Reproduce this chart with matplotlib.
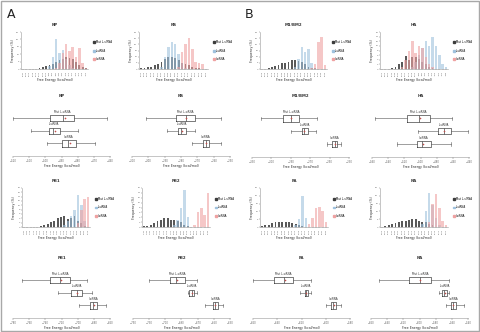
import matplotlib
matplotlib.use("Agg")
import matplotlib.pyplot as plt
from matplotlib.patches import Patch, Rectangle

W, H = 481, 332

SERIES = ["Mut L-siRNA", "L-siRNA", "I-siRNA"]
MUT_COLOR = "#3c3c3c"
L_COLOR = "#9fc2dd"
I_COLOR = "#efa2a2"

# ---- histogram data (frequency %, per free-energy bin) ----
NP_BINS = [-530, -526, -522, -518, -514, -510, -506, -502, -498, -494,
           -490, -486, -482, -478, -474, -470, -466, -462, -458, -454]
NP_MUT = [0, 0, 0, 0, 0.2, 0.5, 1.2, 1.8, 2.5, 3.5, 5, 6, 7, 8, 7.5, 6.5, 4.5, 3, 1.5, 0.5]
NP_L = [0, 0, 0, 0, 0, 0, 0, 0, 2, 8, 20, 11, 13, 7, 3, 1, 0, 0, 0, 0]
NP_I = [0, 0, 0, 0, 0, 0, 0, 0, 0, 0, 1, 4, 11, 17, 12, 15, 8, 14, 4, 1]

NS_BINS = [-312, -309, -306, -303, -300, -297, -294, -291, -288, -285,
           -282, -279, -276, -273, -270, -267, -264, -261, -258, -255]
NS_MUT = [0.5, 1, 1.5, 2, 3, 4, 6, 8, 10, 9.5, 9, 7, 5, 4, 3, 2, 1, 0.5, 0.3, 0]
NS_L = [0, 0, 0, 0, 0, 0, 2, 10, 18, 22, 20, 12, 5, 1, 0, 0, 0, 0, 0, 0]
NS_I = [0, 0, 0, 0, 0, 0, 0, 0, 0, 0, 0, 2, 14, 20, 25, 16, 6, 5, 4, 0]

M1_BINS = [-328, -323, -318, -313, -308, -303, -298, -293, -288, -283,
           -278, -273, -268, -263, -258, -253, -248, -243, -238, -233]
M1_MUT = [0, 0, 0.5, 1.5, 2.5, 3, 4.5, 5, 6, 7, 7.5, 6.5, 6, 4, 2, 1, 0.5, 0, 0, 0]
M1_L = [0, 0, 0, 0, 0, 0, 0, 0, 0, 0, 2, 8, 18, 14, 16, 5, 1, 0, 0, 0]
M1_I = [0, 0, 0, 0, 0, 0, 0, 0, 0, 0, 0, 0, 0, 0, 0, 1, 4, 22, 26, 3]

HA_BINS = [-562, -556, -550, -544, -538, -532, -526, -520, -514, -508,
           -502, -496, -490, -484, -478, -472, -466, -460, -454, -448]
HA_MUT = [0, 0, 0, 0.5, 1, 2, 3, 5.5, 4, 5, 5, 4.5, 3, 2, 1, 0.5, 0, 0, 0, 0]
HA_L = [0, 0, 0, 0, 0, 0, 0, 0, 0, 1, 3, 6, 9, 12, 10, 14, 10, 6, 2, 1]
HA_I = [0, 0, 0, 0, 0, 0, 1, 4, 8, 12, 7, 10, 9, 5, 2, 1, 0, 0, 0, 0]

PB1_BINS = [-790, -784, -778, -772, -766, -760, -754, -748, -742, -736,
            -730, -724, -718, -712, -706, -700, -694, -688, -682, -676]
PB1_MUT = [0, 0, 0, 0, 0, 0.5, 1, 1.5, 2.5, 3, 4, 4.5, 5, 3.5, 4, 5, 3, 2, 0.5, 0]
PB1_L = [0, 0, 0, 0, 0, 0, 0, 0, 0, 0, 0, 0, 1, 3, 5, 8, 15, 10, 3, 0]
PB1_I = [0, 0, 0, 0, 0, 0, 0, 0, 0, 0, 0, 0, 0, 0, 0, 0, 2, 8, 13, 14]

PB2_BINS = [-740, -735, -730, -725, -720, -715, -710, -705, -700, -695,
            -690, -685, -680, -675, -670, -665, -660, -655, -650, -645]
PB2_MUT = [0.3, 0.5, 1, 1.5, 2.5, 3, 3.5, 3.5, 3, 3, 2.5, 2, 1, 0.5, 0, 0, 0, 0, 0, 0]
PB2_L = [0, 0, 0, 0, 0, 0, 0, 0, 0, 1, 3, 8, 15, 4, 0, 0, 0, 0, 0, 0]
PB2_I = [0, 0, 0, 0, 0, 0, 0, 0, 0, 0, 0, 0, 0, 0, 0, 1, 6, 8, 5, 14]

PA_BINS = [-662, -658, -654, -650, -646, -642, -638, -634, -630, -626,
           -622, -618, -614, -610, -606, -602, -598, -594, -590, -586]
PA_MUT = [0.5, 1, 1.5, 2.5, 3, 3.5, 3.5, 3, 3, 2.5, 2, 1.5, 0.5, 0, 0, 0, 0, 0, 0, 0]
PA_L = [0, 0, 0, 0, 0, 0, 0, 0, 0, 0, 1, 5, 20, 6, 0, 0, 0, 0, 0, 0]
PA_I = [0, 0, 0, 0, 0, 0, 0, 0, 0, 0, 0, 0, 0, 0, 2, 6, 12, 13, 10, 3]

NA_BINS = [-656, -651, -646, -641, -636, -631, -626, -621, -616, -611,
           -606, -601, -596, -591, -586, -581, -576, -571, -566, -561]
NA_MUT = [0, 0.5, 1.5, 2, 2.5, 3, 4, 4, 4.5, 5, 5, 4, 3.5, 3, 2, 1, 0, 0, 0, 0]
NA_L = [0, 0, 0, 0, 0, 0, 0, 0, 0, 0, 0, 0, 2, 10, 22, 14, 6, 1, 0, 0]
NA_I = [0, 0, 0, 0, 0, 0, 0, 0, 0, 0, 0, 0, 0, 0, 3, 15, 21, 12, 4, 1]

# ---- boxplot data: [whisker low, Q1, median, Q3, whisker high, mean] ----
NP_BOX = [[-520, -497, -489, -482, -462, -488],
          [-509, -498, -495, -491, -480, -494],
          [-499, -490, -486, -481, -469, -485]]
NP_TICKS = [-520, -510, -500, -490, -480, -470, -460]

NS_BOX = [[-301.5, -283.2, -277.2, -271.4, -255.7, -277],
          [-288.6, -281.9, -280.0, -277.1, -271.4, -279.5],
          [-273.4, -266.7, -264.8, -262.8, -255.7, -264.5]]
NS_TICKS = [-310, -300, -290, -280, -270, -260, -250]

M1_BOX = [[-320.8, -298.3, -290.1, -281.2, -263.4, -290],
          [-289.7, -278.8, -276.1, -272.0, -264.1, -276],
          [-252.5, -247.1, -244.7, -242.3, -237.8, -244.7]]
M1_TICKS = [-330, -310, -290, -270, -250, -230]

HA_BOX = [[-555.9, -516.2, -501.4, -488.4, -460.5, -501],
          [-502.6, -478.9, -471.1, -462.6, -441.2, -471],
          [-529.3, -504.7, -498.6, -487.5, -461.7, -497]]
HA_TICKS = [-560, -540, -520, -500, -480, -460, -440]

PB1_BOX = [[-769.0, -734.8, -721.7, -709.3, -688.0, -721],
           [-724.9, -708.1, -701.0, -694.1, -682.6, -701],
           [-697.8, -684.6, -680.5, -675.6, -664.9, -680]]
PB1_TICKS = [-780, -760, -740, -720, -700, -680, -660]

PB2_BOX = [[-730.0, -704.5, -696.2, -685.9, -671.4, -696],
           [-681.7, -680.5, -677.6, -674.6, -671.4, -677.5],
           [-661.1, -651.5, -648.6, -644.5, -639.1, -648]]
PB2_TICKS = [-750, -730, -710, -690, -670, -650, -630]

PA_BOX = [[-660.0, -643.0, -634.8, -627.1, -612.3, -634],
          [-621.1, -617.5, -616.2, -614.8, -612.1, -616],
          [-599.8, -595.9, -593.7, -591.5, -587.4, -593.5]]
PA_TICKS = [-660, -640, -620, -600, -580]

NA_BOX = [[-649.7, -612.7, -598.8, -585.2, -563.4, -599],
          [-575.8, -572.0, -569.2, -565.9, -563.4, -569],
          [-567.5, -561.4, -558.5, -554.4, -545.4, -558]]
NA_TICKS = [-660, -640, -620, -600, -580, -560, -540]


def px_axes(fig, x0, x1, y0, y1):
    return fig.add_axes([x0 / W, 1 - y1 / H, (x1 - x0) / W, (y1 - y0) / H])


def draw_hist(ax, title, bins, mut, l_vals, i_vals, ymax, ystep):
    x = list(range(len(bins)))
    ax.bar(x, mut, width=0.55, color=MUT_COLOR, alpha=0.85, linewidth=0)
    ax.bar(x, l_vals, width=0.75, color=L_COLOR, alpha=0.6, linewidth=0)
    ax.bar(x, i_vals, width=0.75, color=I_COLOR, alpha=0.6, linewidth=0)
    ax.set_xlim(-0.6, len(bins) - 0.4)
    ax.set_ylim(0, ymax)
    ax.set_yticks(range(0, ymax + 1, ystep))
    ax.set_xticks(x)
    ax.set_xticklabels([str(b) for b in bins], rotation=90)
    ax.tick_params(labelsize=1.6, length=0.8, width=0.3, pad=0.6, colors="#666666")
    for side in ("top", "right"):
        ax.spines[side].set_visible(False)
    for side in ("left", "bottom"):
        ax.spines[side].set_linewidth(0.4)
        ax.spines[side].set_color("#999999")
    ax.set_title(title, fontsize=2.8, fontweight="bold", pad=4, color="#333333")
    ax.set_ylabel("Frequency (%)", fontsize=2.3, labelpad=1.2, color="#333333")
    ax.set_xlabel("Free Energy (kcal/mol)", fontsize=2.3, labelpad=1.2, color="#333333")
    handles = [Patch(color=c) for c in (MUT_COLOR, L_COLOR, I_COLOR)]
    ax.legend(handles, SERIES, loc="center left", bbox_to_anchor=(1.04, 0.5),
              fontsize=1.9, frameon=False, handlelength=0.7, handleheight=0.7,
              handletextpad=0.4, labelspacing=1.8)


def draw_box(ax, title, box, ticks):
    stats = []
    for name, row in zip(SERIES, box):
        stats.append({"whislo": row[0], "q1": row[1], "med": row[2],
                      "q3": row[3], "whishi": row[4], "mean": row[5],
                      "label": name})
    pos = [3, 2, 1]
    ax.bxp(stats, positions=pos, widths=0.5, orientation="horizontal",
           showmeans=True, showfliers=False, patch_artist=False,
           boxprops=dict(linewidth=0.5, color="#444444"),
           whiskerprops=dict(linewidth=0.4, color="#555555"),
           capprops=dict(linewidth=0.4, color="#555555"),
           medianprops=dict(linewidth=0.5, color="#444444"),
           meanprops=dict(marker="+", markersize=2, markeredgewidth=0.4,
                          markeredgecolor="#c0504d"))
    for p, name, row in zip(pos, SERIES, box):
        ax.text((row[1] + row[3]) / 2, p + 0.35, name, ha="center", va="bottom",
                fontsize=2.0, color="#333333")
    ax.set_ylim(0, 3.8)
    ax.set_yticks([])
    ax.set_xlim(ticks[0], ticks[-1])
    ax.set_xticks(ticks)
    ax.tick_params(labelsize=1.8, length=1.2, width=0.3, pad=1, colors="#666666")
    for side in ("top", "right", "left"):
        ax.spines[side].set_visible(False)
    ax.spines["bottom"].set_linewidth(0.4)
    ax.spines["bottom"].set_color("#999999")
    ax.set_title(title, fontsize=2.8, fontweight="bold", pad=8, color="#333333")
    ax.set_xlabel("Free Energy (kcal/mol)", fontsize=2.3, labelpad=1.0, color="#333333")


fig = plt.figure(figsize=(W / 100, H / 100), dpi=100)
fig.patch.set_facecolor("white")
fig.add_artist(Rectangle((0.002, 0.003), 0.994, 0.994, transform=fig.transFigure,
                         fill=False, edgecolor="#a8a8a8", linewidth=1.0))
fig.text(7 / W, 1 - 18 / H, "A", fontsize=9, color="#222222")
fig.text(245 / W, 1 - 18 / H, "B", fontsize=9, color="#222222")

hists = [
    ((21, 88, 32, 69), "NP", NP_BINS, NP_MUT, NP_L, NP_I, 25, 5),
    ((139, 208, 32, 69), "NS", NS_BINS, NS_MUT, NS_L, NS_I, 30, 5),
    ((260, 327, 32, 69), "M1/BM2", M1_BINS, M1_MUT, M1_L, M1_I, 30, 5),
    ((380, 448, 32, 69), "HA", HA_BINS, HA_MUT, HA_L, HA_I, 16, 2),
    ((22, 90, 188, 227), "PB1", PB1_BINS, PB1_MUT, PB1_L, PB1_I, 18, 2),
    ((142, 210, 188, 227), "PB2", PB2_BINS, PB2_MUT, PB2_L, PB2_I, 16, 2),
    ((260, 328, 188, 227), "PA", PA_BINS, PA_MUT, PA_L, PA_I, 25, 5),
    ((380, 448, 188, 227), "NA", NA_BINS, NA_MUT, NA_L, NA_I, 25, 5),
]
for rect, title, bins, mut, l_vals, i_vals, ymax, ystep in hists:
    draw_hist(px_axes(fig, *rect), title, bins, mut, l_vals, i_vals, ymax, ystep)

boxes = [
    ((13, 110, 108, 156), "NP", NP_BOX, NP_TICKS),
    ((132, 230, 108, 156), "NS", NS_BOX, NS_TICKS),
    ((252, 349, 108, 157), "M1/BM2", M1_BOX, M1_TICKS),
    ((372, 469, 108, 157), "HA", HA_BOX, HA_TICKS),
    ((13, 110, 270, 318), "PB1", PB1_BOX, PB1_TICKS),
    ((133, 230, 270, 318), "PB2", PB2_BOX, PB2_TICKS),
    ((253, 350, 270, 318), "PA", PA_BOX, PA_TICKS),
    ((371, 468, 270, 318), "NA", NA_BOX, NA_TICKS),
]
for rect, title, box, ticks in boxes:
    draw_box(px_axes(fig, *rect), title, box, ticks)

fig.savefig("out.png", dpi=100)
plt.close(fig)
